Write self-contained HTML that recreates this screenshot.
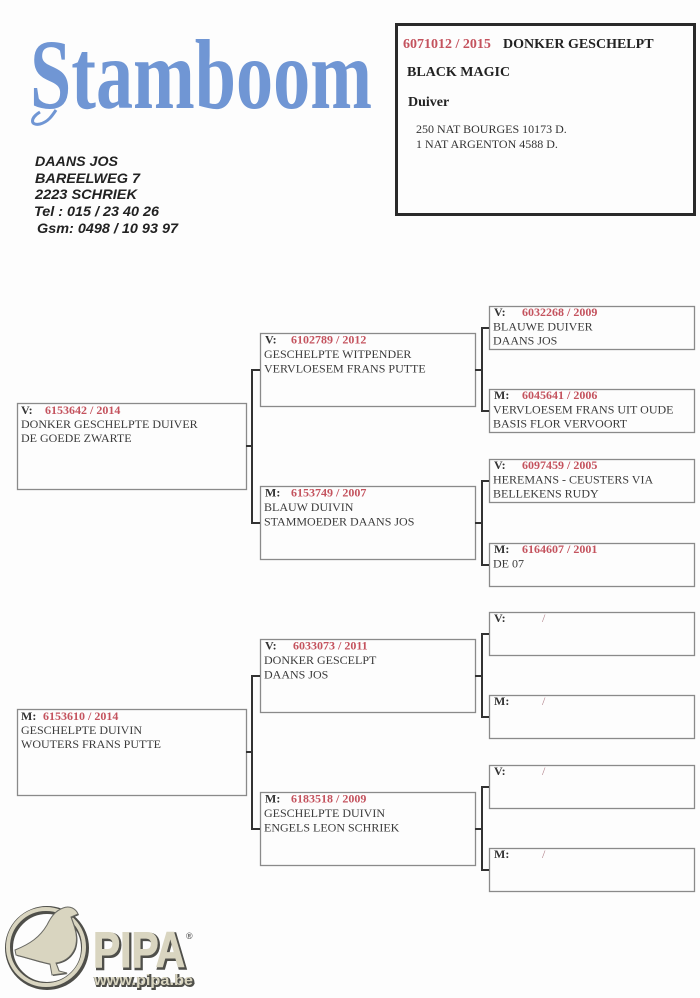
<!DOCTYPE html>
<html><head><meta charset="utf-8"><style>
html,body{margin:0;padding:0;background:#fdfdfd;}
svg{display:block;}
</style></head><body>
<svg width="700" height="998" viewBox="0 0 700 998" xmlns="http://www.w3.org/2000/svg">
<rect x="0" y="0" width="700" height="998" fill="#fdfdfd"/>
<!-- Title -->
<text x="30" y="108" font-family="Liberation Serif, serif" font-weight="bold" font-size="100" fill="#7096d4" textLength="342" lengthAdjust="spacingAndGlyphs">Stamboom</text>
<path d="M40 112 C30 118 30 126 40 124 C48 122 52 116 56 110" fill="none" stroke="#7096d4" stroke-width="3"/>
<!-- Address -->
<g font-family="Liberation Sans, sans-serif" font-weight="bold" font-style="italic" font-size="14" fill="#222">
<text x="35" y="166" textLength="83" lengthAdjust="spacingAndGlyphs">DAANS JOS</text>
<text x="35" y="183" textLength="105" lengthAdjust="spacingAndGlyphs">BAREELWEG 7</text>
<text x="35" y="199" textLength="102" lengthAdjust="spacingAndGlyphs">2223 SCHRIEK</text>
<text x="34" y="216" textLength="125" lengthAdjust="spacingAndGlyphs">Tel : 015 / 23 40 26</text>
<text x="37" y="233" textLength="141" lengthAdjust="spacingAndGlyphs">Gsm: 0498 / 10 93 97</text>
</g>
<!-- Header box -->
<rect x="396.5" y="24.5" width="298" height="190" fill="none" stroke="#2a2a2a" stroke-width="3"/>
<g font-family="Liberation Serif, serif" font-weight="bold" font-size="14">
<text x="403" y="48" fill="#c4535e">6071012 / 2015</text>
<text x="503" y="48" fill="#222">DONKER GESCHELPT</text>
<text x="407" y="76" fill="#222">BLACK MAGIC</text>
<text x="408" y="106" fill="#222">Duiver</text>
</g>
<g font-family="Liberation Serif, serif" font-size="12" fill="#333">
<text x="416" y="133">250 NAT BOURGES 10173 D.</text>
<text x="416" y="148">1 NAT ARGENTON 4588 D.</text>
</g>

<!-- Boxes -->
<g fill="none" stroke="#8a8a8a" stroke-width="1.3">
<rect x="17.5" y="403.5" width="229" height="86"/>
<rect x="17.5" y="709.5" width="229" height="86"/>
<rect x="260.5" y="333.5" width="215" height="73"/>
<rect x="260.5" y="486.5" width="215" height="73"/>
<rect x="260.5" y="639.5" width="215" height="73"/>
<rect x="260.5" y="792.5" width="215" height="73"/>
<rect x="489.5" y="306.5" width="205" height="43"/>
<rect x="489.5" y="389.5" width="205" height="43"/>
<rect x="489.5" y="459.5" width="205" height="43"/>
<rect x="489.5" y="543.5" width="205" height="43"/>
<rect x="489.5" y="612.5" width="205" height="43"/>
<rect x="489.5" y="695.5" width="205" height="43"/>
<rect x="489.5" y="765.5" width="205" height="43"/>
<rect x="489.5" y="848.5" width="205" height="43"/>
</g>
<!-- Brackets -->
<g fill="none" stroke="#333" stroke-width="2">
<path d="M246 446 H252 M260 370 H252 V523 H260"/>
<path d="M246 752 H252 M260 676 H252 V829 H260"/>
<path d="M475 370 H482 M489 328 H482 V411 H489"/>
<path d="M475 523 H482 M489 481 H482 V565 H489"/>
<path d="M475 676 H482 M489 634 H482 V717 H489"/>
<path d="M475 829 H482 M489 787 H482 V870 H489"/>
</g>

<!-- Pedigree text -->
<g font-family="Liberation Serif, serif" font-size="12" fill="#3a3a3a">
<text x="21" y="414" font-weight="bold" fill="#333">V:</text>
<text x="45" y="414" font-weight="bold" fill="#c4535e">6153642 / 2014</text>
<text x="21" y="428">DONKER GESCHELPTE DUIVER</text>
<text x="21" y="442">DE GOEDE ZWARTE</text>

<text x="21" y="720" font-weight="bold" fill="#333">M:</text>
<text x="43" y="720" font-weight="bold" fill="#c4535e">6153610 / 2014</text>
<text x="21" y="734">GESCHELPTE DUIVIN</text>
<text x="21" y="748">WOUTERS FRANS PUTTE</text>

<text x="265" y="343.5" font-weight="bold" fill="#333">V:</text>
<text x="291" y="343.5" font-weight="bold" fill="#c4535e">6102789 / 2012</text>
<text x="264" y="358">GESCHELPTE WITPENDER</text>
<text x="264" y="372.5">VERVLOESEM FRANS PUTTE</text>

<text x="265" y="496.5" font-weight="bold" fill="#333">M:</text>
<text x="291" y="496.5" font-weight="bold" fill="#c4535e">6153749 / 2007</text>
<text x="264" y="511">BLAUW DUIVIN</text>
<text x="264" y="525.5">STAMMOEDER DAANS JOS</text>

<text x="265" y="649.5" font-weight="bold" fill="#333">V:</text>
<text x="293" y="649.5" font-weight="bold" fill="#c4535e">6033073 / 2011</text>
<text x="264" y="664">DONKER GESCELPT</text>
<text x="264" y="678.5">DAANS JOS</text>

<text x="265" y="802.5" font-weight="bold" fill="#333">M:</text>
<text x="291" y="802.5" font-weight="bold" fill="#c4535e">6183518 / 2009</text>
<text x="264" y="817">GESCHELPTE DUIVIN</text>
<text x="264" y="831.5">ENGELS LEON SCHRIEK</text>

<text x="494" y="316" font-weight="bold" fill="#333">V:</text>
<text x="522" y="316" font-weight="bold" fill="#c4535e">6032268 / 2009</text>
<text x="493" y="330.5">BLAUWE DUIVER</text>
<text x="493" y="344.5">DAANS JOS</text>

<text x="494" y="399" font-weight="bold" fill="#333">M:</text>
<text x="522" y="399" font-weight="bold" fill="#c4535e">6045641 / 2006</text>
<text x="493" y="413.5">VERVLOESEM FRANS UIT OUDE</text>
<text x="493" y="427.5">BASIS FLOR VERVOORT</text>

<text x="494" y="469" font-weight="bold" fill="#333">V:</text>
<text x="522" y="469" font-weight="bold" fill="#c4535e">6097459 / 2005</text>
<text x="493" y="483.5">HEREMANS - CEUSTERS VIA</text>
<text x="493" y="497.5">BELLEKENS RUDY</text>

<text x="494" y="553" font-weight="bold" fill="#333">M:</text>
<text x="522" y="553" font-weight="bold" fill="#c4535e">6164607 / 2001</text>
<text x="493" y="567.5">DE 07</text>

<text x="494" y="622" font-weight="bold" fill="#333">V:</text>
<text x="542" y="622" fill="#b08088">/</text>
<text x="494" y="705" font-weight="bold" fill="#333">M:</text>
<text x="542" y="705" fill="#b08088">/</text>
<text x="494" y="775" font-weight="bold" fill="#333">V:</text>
<text x="542" y="775" fill="#b08088">/</text>
<text x="494" y="858" font-weight="bold" fill="#333">M:</text>
<text x="542" y="858" fill="#b08088">/</text>
</g>

<!-- PIPA logo -->
<g>
<circle cx="47" cy="948" r="38" fill="none" stroke="#4f4f4a" stroke-width="8"/>
<circle cx="46" cy="947" r="38" fill="none" stroke="#d9d5c0" stroke-width="4"/>
<path d="M64 909 C71 906 77 910 79 915 L72 918 C75 927 80 937 76 949 C72 959 64 963 57 964 L60 972 L68 974 L53 976 L51 965 C41 963 29 959 17 956 L16 951 C31 945 41 938 48 926 C52 918 56 912 64 909 Z" fill="#4f4f4a"/>
<path d="M63 908 C70 905 76 909 78 914 L71 917 C74 926 79 936 75 948 C71 958 63 962 56 963 L59 971 L67 973 L52 975 L50 964 C40 962 28 958 16 955 L15 950 C30 944 40 937 47 925 C51 917 55 911 63 908 Z" fill="#d9d5c0" stroke="#6a6a64" stroke-width="1"/>
<text x="94.5" y="968.5" font-family="Liberation Sans, sans-serif" font-weight="bold" font-size="50" fill="#4f4f4a" stroke="#4f4f4a" stroke-width="3" textLength="92" lengthAdjust="spacingAndGlyphs">PIPA</text>
<text x="93" y="967" font-family="Liberation Sans, sans-serif" font-weight="bold" font-size="50" fill="#d9d5c0" stroke="#d9d5c0" stroke-width="1" textLength="92" lengthAdjust="spacingAndGlyphs">PIPA</text>
<text x="186" y="939" font-family="Liberation Sans, sans-serif" font-weight="bold" font-size="9" fill="#666">®</text>
<text x="95" y="986" font-family="Liberation Sans, sans-serif" font-weight="bold" font-size="15" fill="#4f4f4a" stroke="#4f4f4a" stroke-width="2" textLength="99" lengthAdjust="spacingAndGlyphs">www.pipa.be</text>
<text x="94" y="985" font-family="Liberation Sans, sans-serif" font-weight="bold" font-size="15" fill="#d9d5c0" textLength="99" lengthAdjust="spacingAndGlyphs">www.pipa.be</text>
</g>
</svg>
</body></html>
